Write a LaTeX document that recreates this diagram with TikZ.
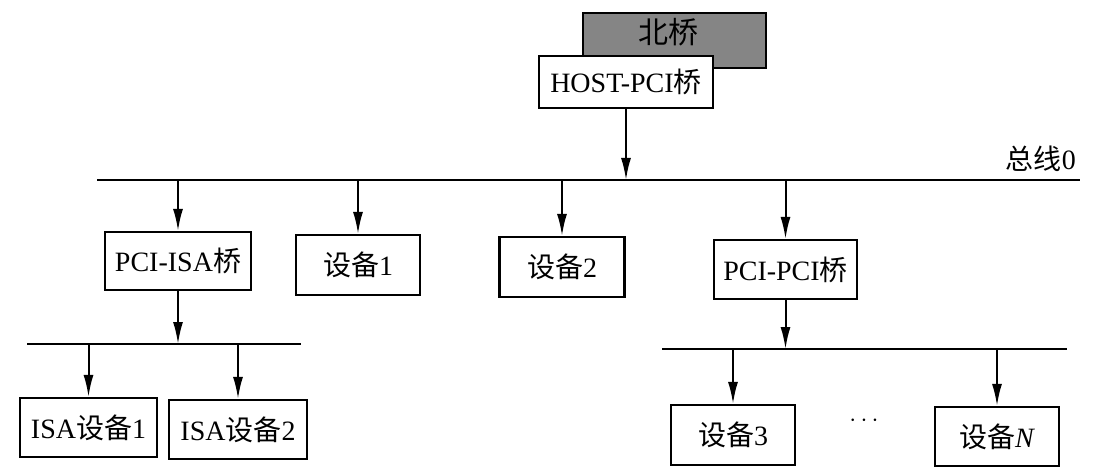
\documentclass[tikz,border=0pt]{standalone}
\usepackage{fontspec}
\setmainfont{Liberation Serif}
\newfontfamily\cjk{Noto Sans CJK SC}
\usetikzlibrary{arrows.meta}
\begin{document}
\begin{tikzpicture}[x=1pt,y=-1pt,
  box/.style={draw, line width=2.2pt, fill=white, inner sep=0pt,
    font=\fontsize{28}{28}\selectfont},
  arr/.style={-{Latex[length=22pt,width=10pt]}, line width=2pt},
  busline/.style={line width=2.6pt},
  lbl/.style={font=\fontsize{28}{28}\selectfont, inner sep=0pt}]
\useasboundingbox (0,0) rectangle (1120,476);
% north bridge
\node[draw, line width=2.2pt, fill=black!48, minimum width=183pt, minimum height=55pt, inner sep=0pt] (nb) at (674.5,40.5) {};
\node[lbl, font=\fontsize{30}{30}\selectfont] (nbt) at (668,32) {\cjk 北桥};
\node[box, minimum width=174pt, minimum height=52pt] (host) at (626,82) {HOST-PCI{\cjk 桥}};
% bus 0
\coordinate (b0l) at (97,180);
\coordinate (b0r) at (1080,180);
\draw[busline] (b0l) -- (b0r);
\node[lbl, anchor=south east] (b0t) at (1076,172) {{\cjk 总线}0};
\draw[arr] (host.south) -- (host.south |- b0l);
% row 1
\node[box, minimum width=146pt, minimum height=58pt] (isa) at (178,261) {PCI-ISA{\cjk 桥}};
\node[box, minimum width=124pt, minimum height=60pt] (d1) at (358,265) {{\cjk 设备}1};
\node[box, minimum width=125pt, minimum height=60pt] (d2) at (562,267) {{\cjk 设备}2};
\node[box, minimum width=143pt, minimum height=59pt] (pp) at (785.5,269.5) {PCI-PCI{\cjk 桥}};
\foreach \n in {isa,d1,d2,pp} \draw[arr] (\n.north |- b0l) -- (\n.north);
% ISA bus
\coordinate (b1l) at (27,344);
\coordinate (b1r) at (301,344);
\draw[busline] (b1l) -- (b1r);
\draw[arr] (isa.south) -- (isa.south |- b1l);
\node[box, minimum width=137pt, minimum height=59pt] (i1) at (88.5,427.5) {ISA{\cjk 设备}1};
\node[box, minimum width=138pt, minimum height=59pt] (i2) at (238,429.5) {ISA{\cjk 设备}2};
\foreach \n in {i1,i2} \draw[arr] (\n.north |- b1l) -- (\n.north);
% PCI bus 2
\coordinate (b2l) at (662,349);
\coordinate (b2r) at (1067,349);
\draw[busline] (b2l) -- (b2r);
\draw[arr] (pp.south) -- (pp.south |- b2l);
\node[box, minimum width=124pt, minimum height=60pt] (d3) at (733,435) {{\cjk 设备}3};
\node[box, minimum width=124pt, minimum height=59pt] (dN) at (997,436.5) {{\cjk 设备}\textit{N}};
\node[lbl, font=\fontsize{36}{36}\selectfont] (dots) at (864,421) {$\cdots$};
\foreach \n in {d3,dN} \draw[arr] (\n.north |- b2l) -- (\n.north);
\end{tikzpicture}
\end{document}
